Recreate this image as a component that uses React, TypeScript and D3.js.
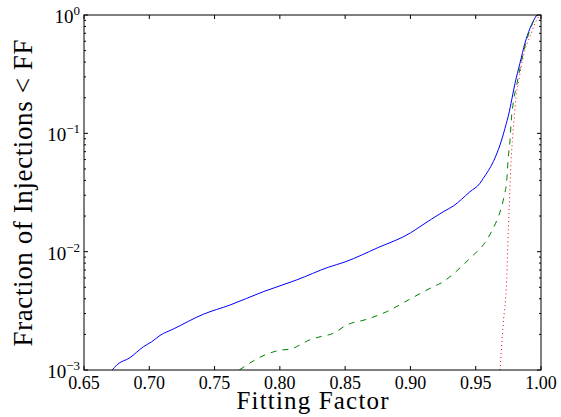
import React from "react";
import * as d3 from "d3";

const xTicks = [0.65, 0.7, 0.75, 0.8, 0.85, 0.9, 0.95, 1.0];
const yMajor = [1e-3, 1e-2, 1e-1, 1];
const yExps = ["−3", "−2", "−1", "0"];

const blueX = [0.6717, 0.675, 0.6852, 0.6954, 0.7018, 0.7082, 0.7184, 0.7414, 0.7618, 0.7873, 0.8129, 0.8371, 0.85, 0.875, 0.9, 0.9073, 0.925, 0.9328, 0.9456, 0.9533, 0.9558, 0.9635, 0.9686, 0.9724, 0.9757, 0.9783, 0.9801, 0.9839, 0.9877, 0.9916, 0.9967];
const blueY = [1e-3, 1.1e-3, 1.27e-3, 1.57e-3, 1.73e-3, 1.96e-3, 2.22e-3, 2.96e-3, 3.54e-3, 4.59e-3, 5.77e-3, 7.38e-3, 8.2e-3, 1.08e-2, 1.44e-2, 1.626e-2, 2.17e-2, 2.43e-2, 3.21e-2, 3.79e-2, 4.17e-2, 5.77e-2, 7.98e-2, 0.11, 0.152, 0.211, 0.265, 0.392, 0.578, 0.774, 1.0];

const greenX = [0.7689, 0.7899, 0.8001, 0.8078, 0.8231, 0.8308, 0.8409, 0.8512, 0.8665, 0.8818, 0.8997, 0.9175, 0.9252, 0.9303, 0.9456, 0.9584, 0.9673, 0.9699, 0.9719, 0.9737, 0.975, 0.9761, 0.9774, 0.979, 0.9815, 0.9845, 0.9878, 0.9916, 0.9954, 0.9977];
const greenY = [1e-3, 1.36e-3, 1.47e-3, 1.5e-3, 1.8e-3, 1.91e-3, 2.04e-3, 2.4e-3, 2.68e-3, 3.11e-3, 3.98e-3, 5.06e-3, 5.57e-3, 6.15e-3, 8.8e-3, 1.256e-2, 1.98e-2, 2.4e-2, 3.01e-2, 3.91e-2, 6.35e-2, 8.3e-2, 0.135, 0.19, 0.26, 0.38, 0.55, 0.746, 0.937, 1.0];

const redX = [0.9686, 0.9711, 0.9737, 0.975, 0.9757, 0.9768, 0.978, 0.9795, 0.9808, 0.983, 0.9855, 0.988, 0.9916, 0.9954, 0.999];
const redY = [1e-3, 2.48e-3, 5.77e-3, 1.53e-2, 2.5e-2, 5.0e-2, 8.5e-2, 0.135, 0.2, 0.28, 0.4, 0.52, 0.66, 0.85, 1.0];

const W = 561, H = 417;
const L = 84, R = 541, T = 15, B = 370;
const FONT = "'Liberation Serif', 'DejaVu Serif', serif";

export default function App() {
  const x = d3.scaleLinear().domain([0.65, 1.0]).range([L, R]);
  const y = d3.scaleLog().domain([1e-3, 1]).range([B, T]);
  const line = d3.line<[number, number]>().x(d => x(d[0])).y(d => y(d[1])).curve(d3.curveMonotoneX);
  const mk = (xs: number[], ys: number[]) => line(xs.map((v, i) => [v, ys[i]] as [number, number])) || "";

  const minors: number[] = [];
  [1e-3, 1e-2, 1e-1].forEach(b => { for (let k = 2; k <= 9; k++) minors.push(b * k); });

  return (
    <svg width={W} height={H} style={{ position: "absolute", left: 0, top: 0, background: "#fff" }}>
      <rect x={0} y={0} width={W} height={H} fill="#fff" />
      <defs>
        <clipPath id="clip"><rect x={L} y={T} width={R - L} height={B - T} /></clipPath>
      </defs>
      <g clipPath="url(#clip)" fill="none" strokeWidth={1}>
        <path d={mk(blueX, blueY)} stroke="#0000ff" />
        <path d={mk(greenX, greenY)} stroke="#008000" strokeDasharray="6,6" />
        <path d={mk(redX, redY)} stroke="#ff0000" strokeDasharray="1,3" />
      </g>
      <g stroke="#000" strokeWidth={1}>
        {xTicks.map((t, i) => (
          <g key={"xt" + i}>
            <line x1={x(t)} x2={x(t)} y1={B} y2={B - 4} />
            <line x1={x(t)} x2={x(t)} y1={T} y2={T + 4} />
          </g>
        ))}
        {yMajor.map((t, i) => (
          <g key={"ym" + i}>
            <line x1={L} x2={L + 4} y1={y(t)} y2={y(t)} />
            <line x1={R} x2={R - 4} y1={y(t)} y2={y(t)} />
          </g>
        ))}
        {minors.map((t, i) => (
          <g key={"yn" + i}>
            <line x1={L} x2={L + 2} y1={y(t)} y2={y(t)} />
            <line x1={R} x2={R - 2} y1={y(t)} y2={y(t)} />
          </g>
        ))}
      </g>
      <rect x={L} y={T} width={R - L} height={B - T} fill="none" stroke="#000" strokeWidth={1} />
      <g fontFamily={FONT} fill="#000">
        {xTicks.map((t, i) => (
          <text key={"xl" + i} x={x(t)} y={389} fontSize={18} textAnchor="middle">{t.toFixed(2)}</text>
        ))}
        {yMajor.map((t, i) => (
          <text key={"yl" + i} x={80} y={y(t) + 8} fontSize={19} textAnchor="end">
            10<tspan dy={-8} fontSize={13}>{yExps[i]}</tspan>
          </text>
        ))}
        <text x={(L + R) / 2} y={409} fontSize={25} textAnchor="middle" textLength={152}>Fitting Factor</text>
        <text transform={`translate(32,193) rotate(-90)`} fontSize={27} textAnchor="middle" textLength={307}>Fraction of Injections &lt; FF</text>
      </g>
    </svg>
  );
}
